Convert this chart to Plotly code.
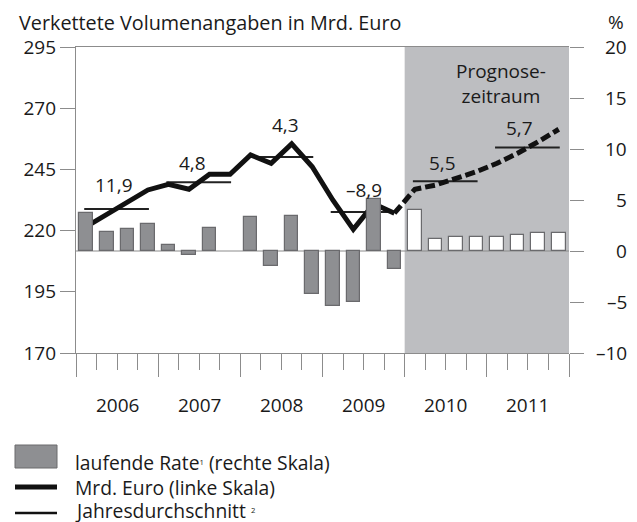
import plotly.graph_objects as go

# ---------------- data ----------------
years = ["2006", "2007", "2008", "2009", "2010", "2011"]
quarters = list(range(24))  # 2006Q1 .. 2011Q4
# laufende Rate (right axis, %)
rate = [3.7, 1.9, 2.2, 2.6,
        0.6, -0.4, 2.3, 0.0,
        3.3, -1.5, 3.4, -4.2,
        -5.4, -5.0, 5.1, -1.8,
        4.0, 1.2, 1.4, 1.4,
        1.4, 1.6, 1.8, 1.8]
# Mrd. Euro (left axis)
level = [221.6, 226.7, 231.4, 236.6,
         238.9, 236.9, 243.0, 243.0,
         250.9, 247.5, 255.4, 246.1,
         232.5, 220.5, 230.9, 227.1,
         236.9, 238.6, 241.1, 244.1,
         247.5, 251.6, 256.3, 261.4]
# Jahresdurchschnitt (left axis)
year_avg = [228.8, 239.7, 250.1, 227.6, 240.2, 253.9]
year_growth = ["11,9", "4,8", "4,3", "\u20138,9", "5,5", "5,7"]
n_actual = 16  # quarters before the forecast period

left_ticks = [170, 195, 220, 245, 270, 295]
right_ticks = [-10, -5, 0, 5, 10, 15, 20]

FONT = "Open Sans"
TXT = "#1a1a1a"
AXIS = "#8c8c8c"
BAR = "#8e8f92"
BAR_EDGE = "#6a6a6d"
SHADE = "#bdbec1"

fig = go.Figure()

# bars (right scale)
bar_colors = [BAR] * n_actual + ["white"] * (24 - n_actual)
bar_edges = [1.2 if r != 0 else 0 for r in rate]
fig.add_trace(go.Bar(x=quarters, y=rate, yaxis="y2", width=0.66,
                     marker=dict(color=bar_colors, line=dict(color=BAR_EDGE, width=bar_edges)),
                     showlegend=False))

# yearly averages
ax, ay = [], []
for i, v in enumerate(year_avg):
    ax += [4 * i - 0.1, 4 * i + 3.05, None]
    ay += [v, v, None]
fig.add_trace(go.Scatter(x=ax, y=ay, mode="lines", line=dict(color="#222222", width=2),
                         showlegend=False))

# level line, actual
fig.add_trace(go.Scatter(x=quarters[:n_actual], y=level[:n_actual], mode="lines",
                         line=dict(color="#111111", width=5), showlegend=False))
# level line, forecast (dashed)
fig.add_trace(go.Scatter(x=quarters[n_actual - 1:], y=level[n_actual - 1:], mode="lines",
                         line=dict(color="#111111", width=5, dash="10px,4px"),
                         showlegend=False))

shapes = []
# forecast shading
shapes.append(dict(type="rect", xref="x", yref="paper", x0=n_actual - 0.5, x1=23.5,
                   y0=0, y1=1, fillcolor=SHADE, line=dict(width=0), layer="below"))
# zero line of right scale
shapes.append(dict(type="line", xref="paper", yref="y2", x0=0, x1=1, y0=0, y1=0,
                   line=dict(color=AXIS, width=1.2), layer="below"))

annotations = []
# growth labels
lab_x = [1.35, 5.15, 9.7, 13.5, 17.35, 21.1]
lab_y = [238.6, 247.6, 263.1, 236.6, 247.6, 261.9]
for t, x, y in zip(year_growth, lab_x, lab_y):
    annotations.append(dict(x=x, y=y, xref="x", yref="y", text=t, showarrow=False,
                            font=dict(size=19, color=TXT, family=FONT)))
# year labels
for i, yname in enumerate(years):
    annotations.append(dict(x=4 * i + 1.5, y=0, xref="x", yref="paper", text=yname,
                            showarrow=False, yanchor="middle", yshift=-52,
                            font=dict(size=19, color=TXT, family=FONT)))
# right tick labels (right-aligned)
for v in right_ticks:
    annotations.append(dict(x=1, y=v, xref="paper", yref="y2",
                            text=str(v).replace("-", "\u2013"), showarrow=False,
                            xanchor="right", xshift=60,
                            font=dict(size=19, color=TXT, family=FONT)))
# titles
annotations.append(dict(x=0, y=1, xref="paper", yref="paper", xshift=-59, yshift=25,
                        text="Verkettete Volumenangaben in Mrd. Euro", showarrow=False,
                        xanchor="left", yanchor="middle",
                        font=dict(size=19.8, color=TXT, family=FONT)))
annotations.append(dict(x=1, y=1, xref="paper", yref="paper", xshift=57, yshift=25,
                        text="%", showarrow=False, xanchor="right", yanchor="middle",
                        font=dict(size=19, color=TXT, family=FONT)))
annotations.append(dict(x=20.2, y=280, xref="x", yref="y", text="Prognose-<br>zeitraum",
                        showarrow=False, align="center",
                        font=dict(size=19, color=TXT, family=FONT)))

# legend (drawn manually)
leg_items = ["laufende Rate<span style='font-size:11px'><sup>1</sup></span> (rechte Skala)",
             "Mrd. Euro (linke Skala)",
             "Jahresdurchschnitt <span style='font-size:11px'><sup>2</sup></span>"]
shapes.append(dict(type="rect", xref="paper", yref="paper",
                   x0=-61 / 493, x1=-19 / 493, y0=-(445 - 353) / 306, y1=-(468 - 353) / 306,
                   fillcolor=BAR, line=dict(color=BAR_EDGE, width=1)))
shapes.append(dict(type="line", xref="paper", yref="paper",
                   x0=-61 / 493, x1=-19 / 493, y0=-(487 - 353) / 306, y1=-(487 - 353) / 306,
                   line=dict(color="#111111", width=5)))
shapes.append(dict(type="line", xref="paper", yref="paper",
                   x0=-61 / 493, x1=-19 / 493, y0=-(513 - 353) / 306, y1=-(513 - 353) / 306,
                   line=dict(color="#111111", width=2.6)))
for k, (t, yy) in enumerate(zip(leg_items, [462, 487.5, 510.5])):
    annotations.append(dict(x=0, y=-(yy - 353) / 306, xref="paper", yref="paper",
                            xshift=-3, text=t, showarrow=False, xanchor="left",
                            yanchor="middle", font=dict(size=19.3, color=TXT, family=FONT)))

fig.update_layout(
    width=637, height=522,
    margin=dict(l=76, r=68, t=47, b=169),
    paper_bgcolor="white", plot_bgcolor="white",
    showlegend=False, bargap=0,
    font=dict(family=FONT, size=19, color=TXT),
    shapes=shapes, annotations=annotations,
    xaxis=dict(range=[-0.5, 23.5], showgrid=False, zeroline=False,
               showline=True, linecolor=AXIS, linewidth=1.2, mirror=True,
               tickmode="array", tickvals=[-0.5 + 4 * i for i in range(7)],
               ticks="outside", ticklen=23, tickcolor=AXIS, tickwidth=1.2,
               showticklabels=False,
               minor=dict(tickmode="linear", tick0=-0.5, dtick=1, ticks="outside",
                          ticklen=16, tickcolor=AXIS, tickwidth=1.2, showgrid=False)),
    yaxis=dict(range=[170, 295], tickvals=left_ticks, showgrid=False, zeroline=False,
               showline=True, linecolor=AXIS, linewidth=1.2,
               ticks="outside", ticklen=15, tickcolor=AXIS, tickwidth=1.2,
               tickfont=dict(size=19, color=TXT, family=FONT)),
    yaxis2=dict(range=[-10, 20], overlaying="y", side="right", tickvals=right_ticks,
                showgrid=False, zeroline=False, showline=False,
                ticks="outside", ticklen=14, tickcolor=AXIS, tickwidth=1.2,
                showticklabels=False),
)

fig.write_html("out.html", config={"displayModeBar": False},
               post_script="document.body.style.margin='0';")
